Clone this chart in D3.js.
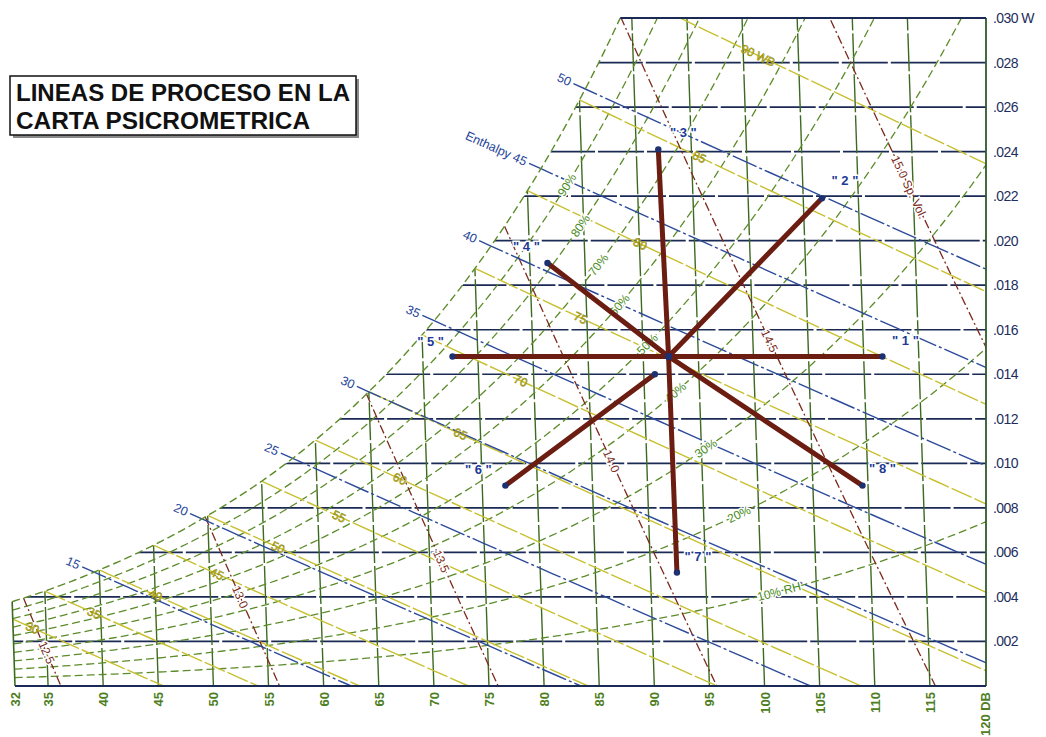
<!DOCTYPE html>
<html>
<head>
<meta charset="utf-8">
<script src="https://cdn.jsdelivr.net/npm/d3@7"></script>
<style>
  html, body { margin: 0; padding: 0; background: #fff; }
  svg { display: block; }
</style>
</head>
<body>
<svg id="chart" width="1046" height="737"></svg>
<script>
// ---- Chart data -------------------------------------------------------
// Dry-bulb temperature ticks (°F)
const dryBulbTicks = [32, 35, 40, 45, 50, 55, 60, 65, 70, 75, 80, 85, 90, 95, 100, 105, 110, 115, 120];
const dryBulbLabels = ["32", "35", "40", "45", "50", "55", "60", "65", "70", "75", "80", "85", "90", "95", "100", "105", "110", "115", "120 DB"];
// Humidity ratio ticks (lb water / lb dry air)
const humidityTicks = [0.002, 0.004, 0.006, 0.008, 0.010, 0.012, 0.014, 0.016, 0.018, 0.020, 0.022, 0.024, 0.026, 0.028, 0.030];
const humidityLabels = [".002", ".004", ".006", ".008", ".010", ".012", ".014", ".016", ".018", ".020", ".022", ".024", ".026", ".028", ".030 W"];
// Saturation humidity ratio at sea level (lb/lb) for the listed temperatures
const satTemps = [30, 32, 35, 40, 45, 50, 55, 60, 65, 70, 75, 80, 85, 90, 95, 100, 105, 110, 115, 120];
const satRatios = [0.003454, 0.003790, 0.004261, 0.005213, 0.006323, 0.007658, 0.009197, 0.011044, 0.013217, 0.015768,
                   0.018755, 0.022245, 0.026318, 0.031063, 0.036587, 0.043011, 0.050485, 0.059176, 0.069287, 0.081097];
// Families of property lines
const rhLevels = [10, 20, 30, 40, 50, 60, 70, 80, 90];
const rhLabels = ["10% RH", "20%", "30%", "40%", "50%", "60%", "70%", "80%", "90%"];
const wetBulbLevels = [30, 35, 40, 45, 50, 55, 60, 65, 70, 75, 80, 85, 90];
const wetBulbLabels = ["30", "35", "40", "45", "50", "55", "60", "65", "70", "75", "80", "85", "90 WB"];
const enthalpyLevels = [15, 20, 25, 30, 35, 40, 45, 50];
const enthalpyLabels = ["15", "20", "25", "30", "35", "40", "Enthalpy 45", "50"];
const volumeLevels = [12.5, 13.0, 13.5, 14.0, 14.5, 15.0];
const volumeLabels = ["12.5", "13.0", "13.5", "14.0", "14.5", "15.0 Sp. Vol."];
// Process lines: each runs from an inner state to an outer end state
const processNames = ["1", "2", "3", "4", "5", "6", "7", "8"];
const processEndDB = [111.7, 106.7, 92.0, 81.6, 72.7, 77.1, 92.4, 109.5];
const processEndW  = [0.0148, 0.0219, 0.0241, 0.0190, 0.0148, 0.0090, 0.0051, 0.0090];
const processInnerDB = [92.3, 92.3, 92.3, 92.3, 92.3, 91.0, 92.3, 92.3];
const processInnerW  = [0.0148, 0.0148, 0.0148, 0.0148, 0.0148, 0.0140, 0.0148, 0.0148];

// ---- Label placement (chart coordinates along each line) ---------------
const rhLabelDB = [101.6, 98.2, 95.4, 92.8, 90.4, 88.0, 86.2, 84.7, 83.6];
const volumeLabelW = [0.0015, 0.0040, 0.0056, 0.0101, 0.0155, 0.0224];
const processLabelOffset = [[23, -16], [23, -18], [25, -17], [-21, -16], [-22, -15], [-27, -16], [21, -16], [20, -17]];

// ---- Psychrometric helpers ---------------------------------------------
const P = 14.696;
function wsat(T) {
  let i = d3.bisectRight(satTemps, T) - 1;
  i = Math.max(0, Math.min(satTemps.length - 2, i));
  const f = (T - satTemps[i]) / (satTemps[i + 1] - satTemps[i]);
  return Math.exp(Math.log(satRatios[i]) * (1 - f) + Math.log(satRatios[i + 1]) * f);
}
function psat(T) { const w = wsat(T); return w * P / (0.62198 + w); }
function wAtRH(T, phi) { const pw = phi * psat(T); return 0.62198 * pw / (P - pw); }
function wAtWB(T, twb) { return ((1093 - 0.556 * twb) * wsat(twb) - 0.240 * (T - twb)) / (1093 + 0.444 * T - twb); }
function enthalpy(T, W) { return 0.240 * T + W * (1061 + 0.444 * T); }
function volume(T, W) { return 0.370486 * (T + 459.67) * (1 + 1.607858 * W) / P; }
function solveUp(fn, target, lo, hi) {
  for (let k = 0; k < 60; k++) {
    const mid = (lo + hi) / 2;
    if (fn(mid) < target) lo = mid; else hi = mid;
  }
  return (lo + hi) / 2;
}
const tSatForW = W => solveUp(wsat, W, 20, 140);

// ---- Scales -------------------------------------------------------------
const x = d3.scaleLinear().domain([32, 120]).range([15, 985]);
const y = d3.scaleLinear().domain([0, 0.030]).range([686, 18]);
const SKEW = 750;                    // dry-bulb lines lean left as W rises
const px = (T, W) => x(T) - SKEW * W;
const py = W => y(W);
const RIGHT = 986;
const WTOP = 0.030;

const svg = d3.select("#chart");
const pline = d3.line();
const toPx = d => [px(d[0], d[1]), py(d[1])];

// chart outline: saturation curve, top, right side, bottom
const tTop = tSatForW(WTOP);
const satPts = d3.range(32, tTop, 0.25).concat([tTop]).map(T => [T, Math.min(wsat(T), WTOP)]);
const outline = satPts.map(toPx).concat([[RIGHT, py(WTOP)], [RIGHT, py(0)], [px(32, 0), py(0)]]);

const defs = svg.append("defs");
defs.append("clipPath").attr("id", "inside").append("path").attr("d", pline(outline) + "Z");
defs.append("clipPath").attr("id", "box").append("rect")
  .attr("x", 0).attr("y", py(WTOP)).attr("width", RIGHT).attr("height", py(0) - py(WTOP));

const grid = svg.append("g").attr("clip-path", "url(#inside)");
const gridBox = svg.append("g").attr("clip-path", "url(#box)");

const angleAt = (a, b) => {
  let ang = Math.atan2(b[1] - a[1], b[0] - a[0]) * 180 / Math.PI;
  if (ang > 90) ang -= 180;
  if (ang <= -90) ang += 180;
  return ang;
};

// ---- Humidity ratio lines (horizontal) ---------------------------------
grid.selectAll("line.w").data(humidityTicks).join("line")
  .attr("x1", w => px(tSatForW(w), w) - 2).attr("x2", RIGHT)
  .attr("y1", w => py(w)).attr("y2", w => py(w))
  .attr("stroke", "#1b2a55").attr("stroke-width", 1.7)
  .attr("stroke-dasharray", "46,3");

// ---- Dry-bulb lines ----------------------------------------------------
grid.selectAll("line.db").data(dryBulbTicks.filter(t => t > 32 && t < 120)).join("line")
  .attr("x1", t => px(t, 0)).attr("y1", py(0))
  .attr("x2", t => px(t, Math.min(wsat(t), WTOP))).attr("y2", t => py(Math.min(wsat(t), WTOP)))
  .attr("stroke", "#3c6a20").attr("stroke-width", 1.4)
  .attr("stroke-dasharray", "38,3");

// ---- Relative humidity curves ------------------------------------------
rhLevels.forEach(rh => {
  const pts = [];
  for (let T = 32; T <= 126; T += 0.5) {
    const w = wAtRH(T, rh / 100);
    pts.push([T, w]);
    if (w > WTOP + 0.001) break;
  }
  grid.append("path").attr("d", pline(pts.map(toPx)))
    .attr("fill", "none").attr("stroke", "#5c8c2a").attr("stroke-width", 1.3)
    .attr("stroke-dasharray", "8,4");
});

// ---- Wet-bulb lines ----------------------------------------------------
wetBulbLevels.forEach(twb => {
  const t0 = twb + (1093 - 0.556 * twb) * wsat(twb) / 0.240;
  const pts = d3.range(0, 21).map(i => {
    const T = twb + (t0 - twb) * i / 20;
    return [T, Math.max(0, wAtWB(T, twb))];
  });
  grid.append("path").attr("d", pline(pts.map(toPx)))
    .attr("fill", "none").attr("stroke", "#c8c030").attr("stroke-width", 1.4)
    .attr("stroke-dasharray", "22,3");
});

// ---- Enthalpy lines ----------------------------------------------------
const enthalpyGeom = enthalpyLevels.map(h => {
  const ts = solveUp(T => enthalpy(T, wsat(T)), h, 20, 130);
  const t0 = h / 0.240;
  const wOf = T => (h - 0.240 * T) / (1061 + 0.444 * T);
  const pts = d3.range(0, 31).map(i => { const T = ts + (t0 - ts) * i / 30; return toPx([T, Math.max(0, wOf(T))]); });
  const p0 = pts[0], p1 = toPx([ts + 0.5, wOf(ts + 0.5)]);
  const len = Math.hypot(p0[0] - p1[0], p0[1] - p1[1]);
  const d = [(p0[0] - p1[0]) / len, (p0[1] - p1[1]) / len];
  const start = [p0[0] + d[0] * 13, p0[1] + d[1] * 13];
  return { pts: [start].concat(pts), anchor: [p0[0] + d[0] * 16, p0[1] + d[1] * 16], angle: angleAt(p0, p1) };
});
enthalpyGeom.forEach(g => {
  gridBox.append("path").attr("d", pline(g.pts))
    .attr("fill", "none").attr("stroke", "#2c4a9a").attr("stroke-width", 1.4)
    .attr("stroke-dasharray", "26,3,3,3");
});

// ---- Specific volume lines ---------------------------------------------
volumeLevels.forEach(v => {
  const ts = solveUp(T => volume(T, wsat(T)), v, 20, 140);
  const t0 = v * P / 0.370486 - 459.67;
  const wOf = T => (v * P / (0.370486 * (T + 459.67)) - 1) / 1.607858;
  const pts = d3.range(0, 21).map(i => { const T = ts + (t0 - ts) * i / 20; return [T, Math.max(0, wOf(T))]; });
  grid.append("path").attr("d", pline(pts.map(toPx)))
    .attr("fill", "none").attr("stroke", "#7c2a1c").attr("stroke-width", 1.3)
    .attr("stroke-dasharray", "9,3,2,3");
});

// ---- Saturation curve and frame ----------------------------------------
svg.append("path").attr("d", pline(satPts.map(toPx)))
  .attr("fill", "none").attr("stroke", "#5c8c2a").attr("stroke-width", 1.4)
  .attr("stroke-dasharray", "8,4");
svg.append("line").attr("x1", px(32, 0)).attr("y1", py(0)).attr("x2", px(32, wsat(32))).attr("y2", py(wsat(32)))
  .attr("stroke", "#3c6a20").attr("stroke-width", 1.6);
svg.append("line").attr("x1", RIGHT).attr("x2", RIGHT).attr("y1", py(WTOP)).attr("y2", py(0))
  .attr("stroke", "#2f5a2a").attr("stroke-width", 1.8);
svg.append("line").attr("x1", px(32, 0)).attr("x2", RIGHT).attr("y1", py(0)).attr("y2", py(0))
  .attr("stroke", "#1b2a55").attr("stroke-width", 2);
svg.append("line").attr("x1", px(tTop, WTOP)).attr("x2", RIGHT).attr("y1", py(WTOP)).attr("y2", py(WTOP))
  .attr("stroke", "#1b2a55").attr("stroke-width", 1.8);

// ---- Line labels ---------------------------------------------------------
const halo = sel => sel.attr("stroke", "#fff").attr("stroke-width", 3).attr("paint-order", "stroke");

// relative humidity
rhLevels.forEach((rh, i) => {
  const T = rhLabelDB[i];
  const a = toPx([T - 0.4, wAtRH(T - 0.4, rh / 100)]), b = toPx([T + 0.4, wAtRH(T + 0.4, rh / 100)]);
  const c = toPx([T, wAtRH(T, rh / 100)]);
  svg.append("text").text(rhLabels[i])
    .attr("transform", `translate(${c[0]},${c[1]}) rotate(${angleAt(a, b)})`)
    .attr("text-anchor", "middle").attr("dy", "0.35em")
    .attr("font-family", "Liberation Sans, Arial, sans-serif").attr("font-size", 12)
    .attr("fill", "#4a8a1c").call(halo);
});

// wet bulb
wetBulbLevels.forEach((twb, i) => {
  const T = twb + 4.4 + 0.126 * (twb - 35);
  const a = toPx([T - 0.5, wAtWB(T - 0.5, twb)]), b = toPx([T + 0.5, wAtWB(T + 0.5, twb)]);
  const c = toPx([T, wAtWB(T, twb)]);
  svg.append("text").text(wetBulbLabels[i])
    .attr("transform", `translate(${c[0]},${c[1]}) rotate(${angleAt(a, b)})`)
    .attr("text-anchor", "middle").attr("dy", "0.35em")
    .attr("font-family", "Liberation Sans, Arial, sans-serif").attr("font-size", 12)
    .attr("fill", "#d8cc1c").attr("stroke", "#8a8410").attr("stroke-width", 0.5);
});

// enthalpy
enthalpyGeom.forEach((g, i) => {
  svg.append("text").text(enthalpyLabels[i])
    .attr("transform", `translate(${g.anchor[0]},${g.anchor[1]}) rotate(${g.angle})`)
    .attr("text-anchor", "end").attr("dy", "0.35em")
    .attr("font-family", "Liberation Sans, Arial, sans-serif").attr("font-size", 12.5)
    .attr("fill", "#24449a");
});

// specific volume
volumeLevels.forEach((v, i) => {
  const w = volumeLabelW[i];
  const tOf = W => v * P / (0.370486 * (1 + 1.607858 * W)) - 459.67;
  const a = toPx([tOf(w + 0.0005), w + 0.0005]), b = toPx([tOf(w - 0.0005), w - 0.0005]);
  const c = toPx([tOf(w), w]);
  svg.append("text").text(volumeLabels[i])
    .attr("transform", `translate(${c[0]},${c[1]}) rotate(${angleAt(a, b)})`)
    .attr("text-anchor", "middle").attr("dy", "0.35em")
    .attr("font-family", "Liberation Sans, Arial, sans-serif").attr("font-size", 12)
    .attr("fill", "#7a2a1c").call(halo);
});

// ---- Axis labels -------------------------------------------------------
svg.append("g").selectAll("text").data(humidityTicks).join("text")
  .attr("x", 993).attr("y", w => py(w) + 5)
  .text((w, i) => humidityLabels[i])
  .attr("font-family", "Liberation Sans Narrow, Arial Narrow, Liberation Sans, sans-serif")
  .attr("font-size", 14).attr("letter-spacing", -0.6)
  .attr("fill", "#1d2d5d");

svg.append("g").selectAll("text").data(dryBulbTicks).join("text")
  .attr("transform", t => `translate(${x(t) + 5},${692}) rotate(-90)`)
  .attr("text-anchor", "end")
  .text((t, i) => dryBulbLabels[i])
  .attr("font-family", "Liberation Sans, Arial, sans-serif")
  .attr("font-size", 13).attr("font-weight", "bold")
  .attr("fill", "#4e7e22");

// ---- Process lines ---------------------------------------------------------
const proc = svg.append("g");
processNames.forEach((n, i) => {
  const a = toPx([processInnerDB[i], processInnerW[i]]);
  const b = toPx([processEndDB[i], processEndW[i]]);
  proc.append("line").attr("x1", a[0]).attr("y1", a[1]).attr("x2", b[0]).attr("y2", b[1])
    .attr("stroke", "#6b1d12").attr("stroke-width", 5);
});
processNames.forEach((n, i) => {
  const a = toPx([processInnerDB[i], processInnerW[i]]);
  const b = toPx([processEndDB[i], processEndW[i]]);
  proc.append("circle").attr("cx", b[0]).attr("cy", b[1]).attr("r", 3.2).attr("fill", "#1d3070");
  proc.append("circle").attr("cx", a[0]).attr("cy", a[1]).attr("r", 3.2).attr("fill", "#1d3070");
  proc.append("text").text(`" ${n} "`)
    .attr("x", b[0] + processLabelOffset[i][0]).attr("y", b[1] + processLabelOffset[i][1])
    .attr("text-anchor", "middle").attr("dy", "0.35em")
    .attr("font-family", "Liberation Sans, Arial, sans-serif")
    .attr("font-size", 13).attr("font-weight", "bold")
    .attr("fill", "#1d3b96").call(halo);
});

// ---- Title box ---------------------------------------------------------
const title = svg.append("g");
title.append("rect").attr("x", 13).attr("y", 79).attr("width", 346).attr("height", 59).attr("fill", "#8a8a8a");
title.append("rect").attr("x", 10).attr("y", 76).attr("width", 346).attr("height", 59)
  .attr("fill", "#fff").attr("stroke", "#111").attr("stroke-width", 1.5);
title.append("text").text("LINEAS DE PROCESO EN LA")
  .attr("x", 16).attr("y", 101).attr("textLength", 334).attr("lengthAdjust", "spacingAndGlyphs")
  .attr("font-family", "Liberation Sans, Arial, sans-serif").attr("font-size", 24).attr("font-weight", "bold")
  .attr("fill", "#111");
title.append("text").text("CARTA PSICROMETRICA")
  .attr("x", 16).attr("y", 129).attr("textLength", 294).attr("lengthAdjust", "spacingAndGlyphs")
  .attr("font-family", "Liberation Sans, Arial, sans-serif").attr("font-size", 24).attr("font-weight", "bold")
  .attr("fill", "#111");
</script>
</body>
</html>
